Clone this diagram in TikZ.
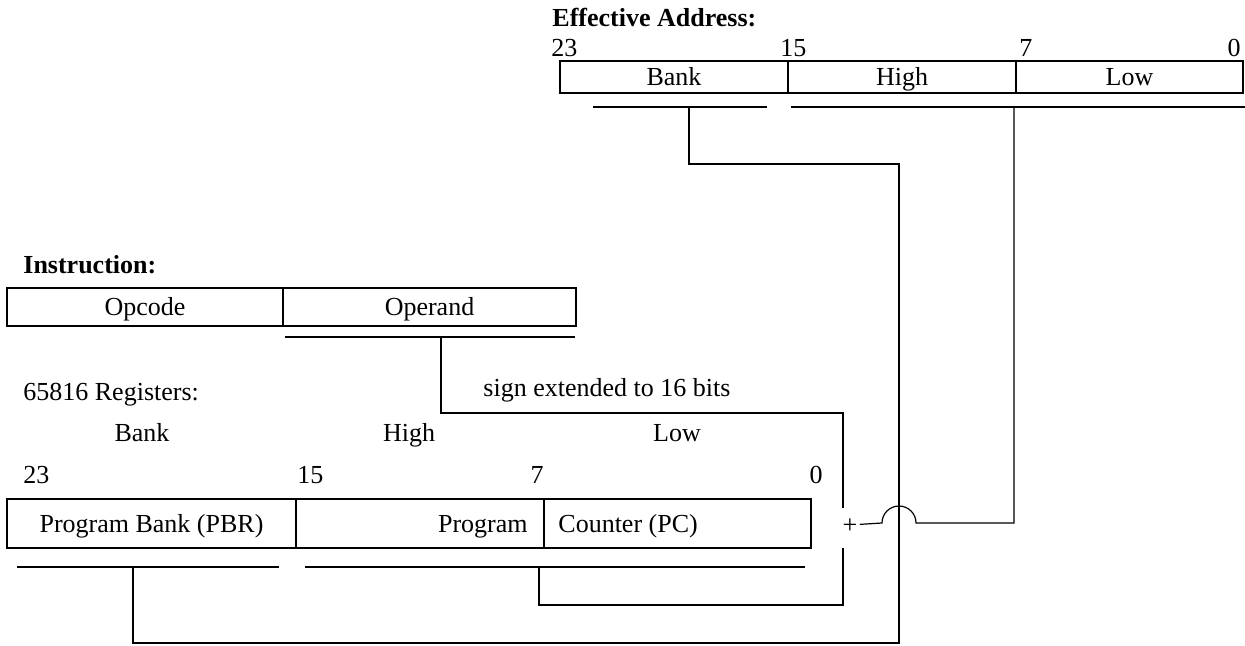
\documentclass[tikz,border=0pt]{standalone}
\usepackage{fontspec}
\setmainfont{Liberation Serif}

\begin{document}
\begin{tikzpicture}[x=0.5pt, y=-0.5pt, font=\fontsize{13}{15}\selectfont,
	lbl/.style={inner sep=0pt, text height=8.6pt, text depth=0pt},
	field/.style={draw, line width=0.75pt, inner sep=0pt, text height=8.6pt, text depth=0pt},
	wire/.style={line width=0.6pt}]
			\useasboundingbox (0,0) rectangle (1245,646);
			\node (eatitle) at (552,18) [lbl, anchor=west, font=\fontsize{13}{15}\selectfont\bfseries] {Effective Address:};
			\node (ea23) at (551,48) [lbl, anchor=west] {23};
			\node (ea15) at (780,48) [lbl, anchor=west] {15};
			\node (ea7) at (1019,48) [lbl, anchor=west] {7};
			\node (ea0) at (1241,48) [lbl, anchor=east] {0};
			\node (eabank) at (674,77) [field, minimum width=114pt, minimum height=16pt] {Bank};
			\node (eahigh) at (902,77) [field, minimum width=114pt, minimum height=16pt] {High};
			\node (ealow) at (1129.5,77) [field, minimum width=113.5pt, minimum height=16pt] {Low};
			\node (intitle) at (23,265) [lbl, anchor=west, font=\fontsize{13}{15}\selectfont\bfseries] {Instruction:};
			\node (opcode) at (145,307) [field, minimum width=138pt, minimum height=19pt] {Opcode};
			\node (operand) at (429.5,307) [field, minimum width=146.5pt, minimum height=19pt] {Operand};
			\node (regtitle) at (23,392) [lbl, anchor=west] {65816 Registers:};
			\node (signext) at (483,388) [lbl, anchor=west] {sign extended to 16 bits};
			\node (rgbank) at (142,433) [lbl] {Bank};
			\node (rghigh) at (409,433) [lbl] {High};
			\node (rglow) at (677,433) [lbl] {Low};
			\node (rg23) at (23,475) [lbl, anchor=west] {23};
			\node (rg15) at (297,475) [lbl, anchor=west] {15};
			\node (rg7) at (537,475) [lbl] {7};
			\node (rg0) at (816,475) [lbl] {0};
			\node (pbr) at (151.5,523.5) [field, minimum width=144.5pt, minimum height=24.5pt] {Program Bank (PBR)};
			\node (pchigh) at (420,523.5) [field, minimum width=124pt, minimum height=24.5pt] {};
			\node (pclow) at (677.5,523.5) [field, minimum width=133.5pt, minimum height=24.5pt] {};
			\node (pchightxt) at (528,524) [lbl, anchor=east] {Program};
			\node (pclowtxt) at (558,524) [lbl, anchor=west] {Counter (PC)};
			\node (plus) at (850,525) [lbl, inner xsep=1pt] {+};
			\coordinate (eaulA) at (593,107);
			\coordinate (eaulB) at (767,107);
			\coordinate (eaulC) at (791,107);
			\coordinate (eaulD) at (1245,107);
			\coordinate (inulA) at (285,337);
			\coordinate (inulB) at (575,337);
			\coordinate (rgulA) at (17,567);
			\coordinate (rgulB) at (279,567);
			\coordinate (rgulC) at (305,567);
			\coordinate (rgulD) at (805,567);
			\coordinate (banktap) at (689,107);
			\coordinate (bankbend) at (899,164);
			\coordinate (bankfoot) at (899,643);
			\coordinate (pbrtap) at (133,567);
			\coordinate (lowtap) at (1014,107);
			\coordinate (hopR) at (916,523);
			\coordinate (opndtap) at (441,337);
			\coordinate (signbend) at (843,413);
			\coordinate (plusup) at (843,508);
			\coordinate (pctap) at (539,567);
			\coordinate (pcbend) at (843,605);
			\coordinate (plusdown) at (843,548);
			\draw[wire] (eaulA) -- (eaulB);
			\draw[wire] (eaulC) -- (eaulD);
			\draw[wire] (inulA) -- (inulB);
			\draw[wire] (rgulA) -- (rgulB);
			\draw[wire] (rgulC) -- (rgulD);
			\draw[wire] (banktap) |- (bankbend) -- (bankfoot) -| (pbrtap);
			\draw[wire] (lowtap) |- (hopR) arc[start angle=0, end angle=180, radius=8.5pt] -- (plus);
			\draw[wire] (opndtap) |- (signbend) -- (plusup);
			\draw[wire] (pctap) |- (pcbend) -- (plusdown);
			\end{tikzpicture}
\end{document}
